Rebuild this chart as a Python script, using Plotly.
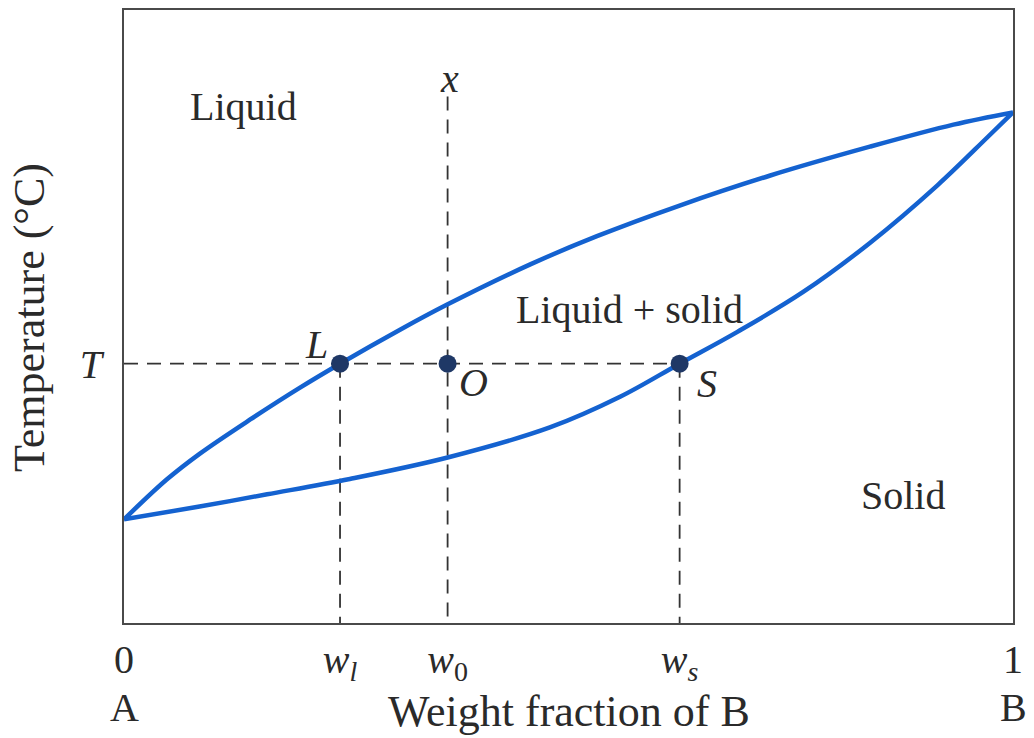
import plotly.graph_objects as go

# ---- data ----
x_liquidus = [0, 0.048, 0.085, 0.142, 0.198, 0.243, 0.310, 0.363, 0.457, 0.532, 0.625, 0.727, 0.839, 0.933, 1.0]
t_liquidus = [16.9, 23.4, 27.6, 33.2, 38.4, 42.3, 47.8, 51.9, 58.5, 63.1, 68.1, 73.0, 77.7, 81.3, 83.3]
x_solidus = [0, 0.085, 0.161, 0.254, 0.364, 0.479, 0.558, 0.625, 0.690, 0.764, 0.839, 0.915, 0.971, 1.0]
t_solidus = [16.9, 19.0, 21.0, 23.5, 27.0, 31.9, 36.9, 42.3, 47.5, 54.0, 62.0, 71.4, 79.2, 83.3]

w_l, w_0, w_s = 0.243, 0.364, 0.625
T_level = 42.3
x_top = 85.9

point_x = [w_l, w_0, w_s]
point_t = [T_level, T_level, T_level]

x_tickvals = [0, w_l, w_0, w_s, 1]
x_ticktext = ["0", "<i>w</i><sub><i>l</i></sub>", "<i>w</i><sub>0</sub>", "<i>w</i><sub><i>s</i></sub>", "1"]
y_tickvals = [T_level]
y_ticktext = ["<i>T</i>"]

FONT = "Liberation Serif"
BLUE = "#1462d0"
DOT = "#1f3866"
DASH = "#333333"
TXT = "#2a2a2a"
FS = 40
FS_TITLE = 44

fig = go.Figure()

dash_style = dict(color=DASH, width=1.8, dash="14px,9px")
# horizontal tie line at T
fig.add_trace(go.Scatter(x=[0, w_s], y=[T_level, T_level], mode="lines", line=dash_style, hoverinfo="skip"))
# verticals
fig.add_trace(go.Scatter(x=[w_l, w_l], y=[T_level, 0], mode="lines", line=dash_style, hoverinfo="skip"))
fig.add_trace(go.Scatter(x=[w_0, w_0], y=[x_top, 0], mode="lines", line=dash_style, hoverinfo="skip"))
fig.add_trace(go.Scatter(x=[w_s, w_s], y=[T_level, 0], mode="lines", line=dash_style, hoverinfo="skip"))

# liquidus and solidus
fig.add_trace(go.Scatter(x=x_liquidus, y=t_liquidus, mode="lines",
                         line=dict(color=BLUE, width=4.5, shape="spline", smoothing=1.0)))
fig.add_trace(go.Scatter(x=x_solidus, y=t_solidus, mode="lines",
                         line=dict(color=BLUE, width=4.5, shape="spline", smoothing=1.0)))

# L, O, S points
fig.add_trace(go.Scatter(x=point_x, y=point_t, mode="markers",
                         marker=dict(color=DOT, size=18), cliponaxis=False))

annotations = [
    dict(x=0.134, y=84.2, text="Liquid"),
    dict(x=0.569, y=51.2, text="Liquid + solid"),
    dict(x=0.876, y=20.8, text="Solid"),
    dict(x=0.217, y=45.4, text="<i>L</i>"),
    dict(x=0.393, y=39.2, text="<i>O</i>"),
    dict(x=0.656, y=39.0, text="<i>S</i>"),
    dict(x=0.366, y=88.9, text="<i>x</i>"),
]
for a in annotations:
    a.update(xref="x", yref="y", showarrow=False, xanchor="center", yanchor="middle",
             font=dict(family=FONT, size=FS, color=TXT))

annotations += [
    dict(x=0, y=-0.138, xref="x", yref="paper", text="A", showarrow=False,
         xanchor="center", yanchor="middle", font=dict(family=FONT, size=FS, color=TXT)),
    dict(x=1, y=-0.138, xref="x", yref="paper", text="B", showarrow=False,
         xanchor="center", yanchor="middle", font=dict(family=FONT, size=FS, color=TXT)),
    dict(x=0.5, y=-0.145, xref="paper", yref="paper", text="Weight fraction of B", showarrow=False,
         xanchor="center", yanchor="middle", font=dict(family=FONT, size=FS_TITLE, color=TXT)),
    dict(x=-0.107, y=0.499, xref="paper", yref="paper", text="Temperature (°C)", textangle=-90,
         showarrow=False, xanchor="center", yanchor="middle",
         font=dict(family=FONT, size=FS_TITLE, color=TXT)),
]

fig.update_layout(
    width=1034, height=738,
    margin=dict(l=124, r=21, t=8, b=115),
    paper_bgcolor="white", plot_bgcolor="white",
    showlegend=False,
    annotations=annotations,
    font=dict(family=FONT, size=FS, color=TXT),
    xaxis=dict(range=[0, 1], showgrid=False, zeroline=False,
               showline=True, mirror=True, linecolor="#4a4a4a", linewidth=2,
               tickvals=x_tickvals, ticktext=x_ticktext, ticks="", ticklabelstandoff=0,
               tickfont=dict(family=FONT, size=FS, color=TXT)),
    yaxis=dict(range=[0, 100], showgrid=False, zeroline=False,
               showline=True, mirror=True, linecolor="#4a4a4a", linewidth=2,
               tickvals=y_tickvals, ticktext=y_ticktext, ticks="", ticklabelstandoff=12,
               tickfont=dict(family=FONT, size=FS, color=TXT)),
)

fig.write_html("out.html")
